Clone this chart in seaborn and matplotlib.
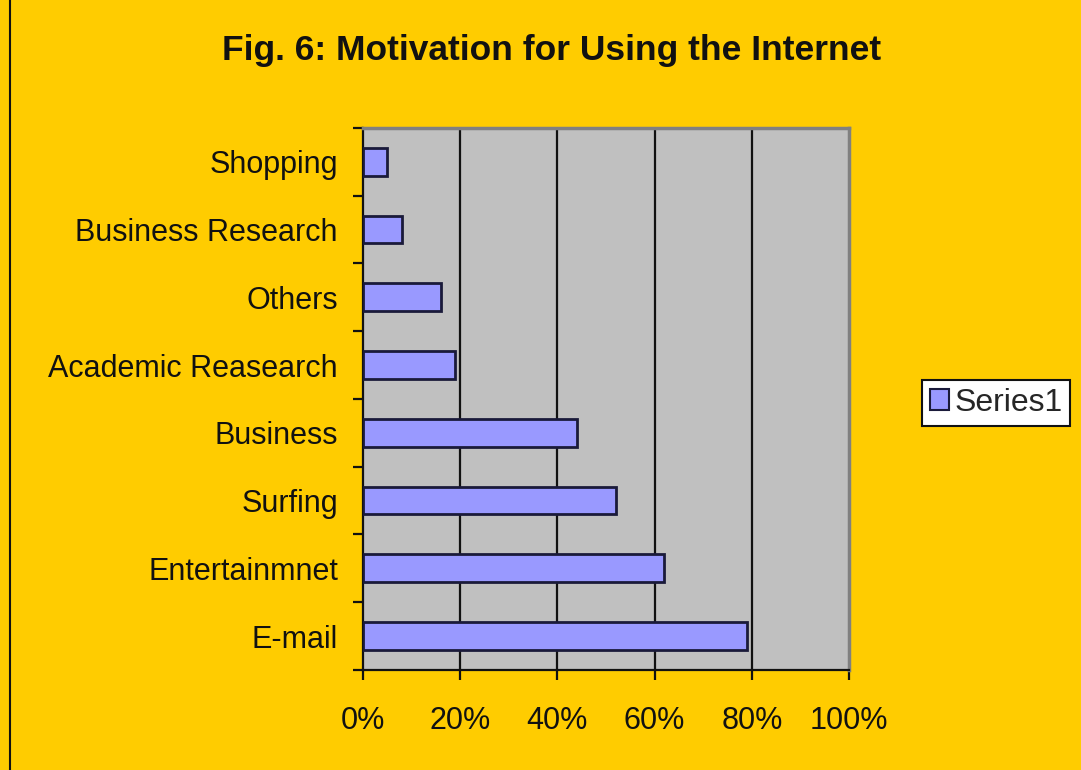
import matplotlib
matplotlib.use("Agg")
import matplotlib.pyplot as plt
import seaborn as sns
import pandas as pd
import numpy as np
from matplotlib.ticker import FixedLocator, PercentFormatter
from matplotlib.patches import Patch
from matplotlib.lines import Line2D

categories = ["Shopping", "Business Research", "Others", "Academic Reasearch",
              "Business", "Surfing", "Entertainmnet", "E-mail"]
values = [5, 8, 16, 19, 44, 52, 62, 79]
x_ticks = [0, 20, 40, 60, 80, 100]
series_name = "Series1"
title = "Fig. 6: Motivation for Using the Internet"

df = pd.DataFrame({"category": categories, "value": values})

sns.set_theme(style="white")
plt.rcParams["font.family"] = ["Liberation Sans", "DejaVu Sans"]

fig = plt.figure(figsize=(10.81, 7.7), dpi=100)
fig.patch.set_facecolor("#FFCC00")
ax = fig.add_axes([0.3358, 0.1299, 0.4496, 0.7039])
ax.set_facecolor("#C0C0C0")

sns.barplot(data=df, x="value", y="category", order=categories, ax=ax,
            color="#9999FF", edgecolor="#1a1a3a", linewidth=2, width=0.41,
            saturation=1, zorder=3)

ax.set_xlim(0, 100)
ax.set_ylim(len(categories) - 0.5, -0.5)
ax.xaxis.set_major_locator(FixedLocator(x_ticks))
ax.xaxis.set_major_formatter(PercentFormatter(decimals=0))
ax.set_xlabel("")
ax.set_ylabel("")
for xv in x_ticks[1:-1]:
    ax.axvline(xv, color="#111111", lw=1.6, zorder=1)

ax.tick_params(axis="x", which="major", direction="out", length=7, width=1.6,
               color="#111111", labelsize=22, labelcolor="#111111", pad=19, bottom=True)
ax.tick_params(axis="y", which="major", length=0, labelsize=22, labelcolor="#111111", pad=18)
ax.set_yticks(np.arange(-0.5, len(categories) + 0.5, 1), minor=True)
ax.tick_params(axis="y", which="minor", direction="out", length=7, width=1.6,
               color="#111111", left=True)

for side in ["left", "bottom"]:
    ax.spines[side].set_color("#111111")
    ax.spines[side].set_linewidth(1.6)
for side in ["top", "right"]:
    ax.spines[side].set_color("#808080")
    ax.spines[side].set_linewidth(2.5)

fig.text(0.5106, 0.935, title, ha="center", va="center", fontsize=25.5,
         fontweight="bold", color="#111111")

handle = Patch(facecolor="#9999FF", edgecolor="#1a1a3a", linewidth=1.5)
leg = fig.legend([handle], [series_name], loc="center left",
                 bbox_to_anchor=(0.853, 0.477), fontsize=23, frameon=True,
                 fancybox=False, handlelength=0.6, handleheight=0.6,
                 handletextpad=0.15, borderpad=0.25, borderaxespad=0,
                 framealpha=1)
leg.get_frame().set_edgecolor("#111111")
leg.get_frame().set_linewidth(1.5)
leg.get_frame().set_facecolor("white")

fig.add_artist(Line2D([0.0095, 0.0095], [0, 1], transform=fig.transFigure,
                      color="#111111", lw=1.5))

fig.savefig("out.png", dpi=100, facecolor=fig.get_facecolor())
